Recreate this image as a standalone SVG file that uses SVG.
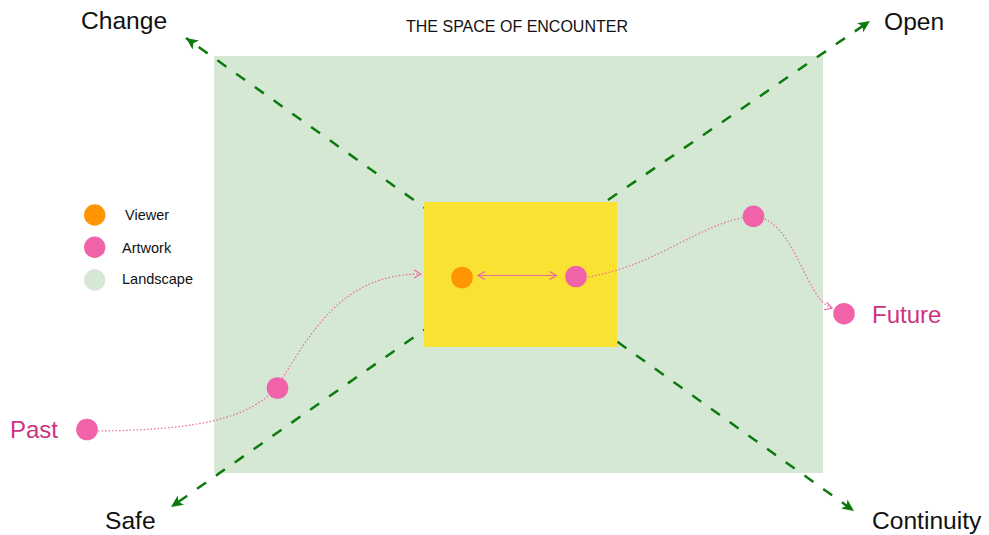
<svg xmlns="http://www.w3.org/2000/svg" width="989" height="535" viewBox="0 0 989 535">
<style>
  text { font-family: "Liberation Sans", Arial, Helvetica, sans-serif; }
  .axis { fill: none; stroke: #0d7a0d; stroke-width: 2.5; stroke-dasharray: 11 12; }
  .flow { fill: none; stroke: #ea6aa3; stroke-width: 1.2; stroke-dasharray: 1.5 2; }
  .link { fill: none; stroke: #ea6aa3; stroke-width: 1.2; }
  .pink { fill: #f063a9; }
  .orange { fill: #ff9500; }
  .land { fill: #d5e8d4; }
  .lbl { font-size: 24.6px; fill: #111; }
  .time { font-size: 24px; fill: #cc3380; }
  .leg { font-size: 14.5px; fill: #111; }
</style>
<defs>
  <marker id="ga" markerUnits="userSpaceOnUse" markerWidth="14" markerHeight="14" viewBox="0 0 14 14" refX="13" refY="7" orient="auto">
    <path d="M1,1.5 L13,7 L1,12.5 L4,7 Z" fill="#0d7a0d"/>
  </marker>
  <marker id="pa" markerUnits="userSpaceOnUse" markerWidth="10" markerHeight="10" viewBox="0 0 10 10" refX="9" refY="5" orient="auto-start-reverse">
    <path d="M2,1 L9,5 L2,9" fill="none" stroke="#ea6aa3" stroke-width="1.2"/>
  </marker>
</defs>
<g id="landscape">
  <rect x="214" y="56" width="609" height="417" class="land"/>
</g>
<text x="517" y="32" font-size="16" text-anchor="middle" fill="#111">THE SPACE OF ENCOUNTER</text>
<g id="connectors">
  <line class="axis" x1="470" y1="240" x2="186" y2="38" marker-end="url(#ga)"/>
  <line class="axis" x1="570" y1="226" x2="870" y2="21" marker-end="url(#ga)"/>
  <line class="axis" x1="580" y1="315" x2="854" y2="511" marker-end="url(#ga)"/>
  <line class="axis" x1="470" y1="298" x2="171" y2="507" marker-end="url(#ga)"/>
</g>
<g id="encounter">
  <rect x="424" y="202" width="193" height="145" fill="#f9e231"/>
</g>
<g id="connectors-flow">
  <path class="flow" d="M98,431 C200,430 250,418 277,387 C310,335 340,274 421,274" marker-end="url(#pa)"/>
  <path class="flow" d="M588,277 C660,265 700,222 753,216 C795,218 805,300 832,308" marker-end="url(#pa)"/>
  <line class="link" x1="478" y1="275.5" x2="556.5" y2="275.5" marker-start="url(#pa)" marker-end="url(#pa)"/>
</g>
<g id="viewer"><circle cx="462" cy="277.5" r="10.8" class="orange"/></g>
<g id="artwork-center"><circle cx="576" cy="276.5" r="10.8" class="pink"/></g>
<g id="artwork-left"><circle cx="277.5" cy="388" r="10.8" class="pink"/></g>
<g id="artwork-right"><circle cx="753.5" cy="216.3" r="10.8" class="pink"/></g>
<g id="past">
  <circle cx="87" cy="429.5" r="10.8" class="pink"/>
  <text x="10" y="438" class="time">Past</text>
</g>
<g id="future">
  <circle cx="844" cy="313.7" r="10.8" class="pink"/>
  <text x="872" y="323" class="time">Future</text>
</g>
<g id="label-change"><text x="81" y="29" class="lbl">Change</text></g>
<g id="label-open"><text x="884" y="30" class="lbl">Open</text></g>
<g id="label-safe"><text x="105" y="529" class="lbl">Safe</text></g>
<g id="label-continuity"><text x="872" y="529" class="lbl">Continuity</text></g>
<g id="legend">
  <g id="legend-viewer">
    <circle cx="94.7" cy="215" r="10.7" class="orange"/>
    <text x="125" y="220" class="leg">Viewer</text>
  </g>
  <g id="legend-artwork">
    <circle cx="94.7" cy="247.3" r="10.7" class="pink"/>
    <text x="122" y="252.5" class="leg">Artwork</text>
  </g>
  <g id="legend-landscape">
    <circle cx="94.7" cy="280" r="10.7" class="land"/>
    <text x="122" y="284" class="leg">Landscape</text>
  </g>
</g>
</svg>
